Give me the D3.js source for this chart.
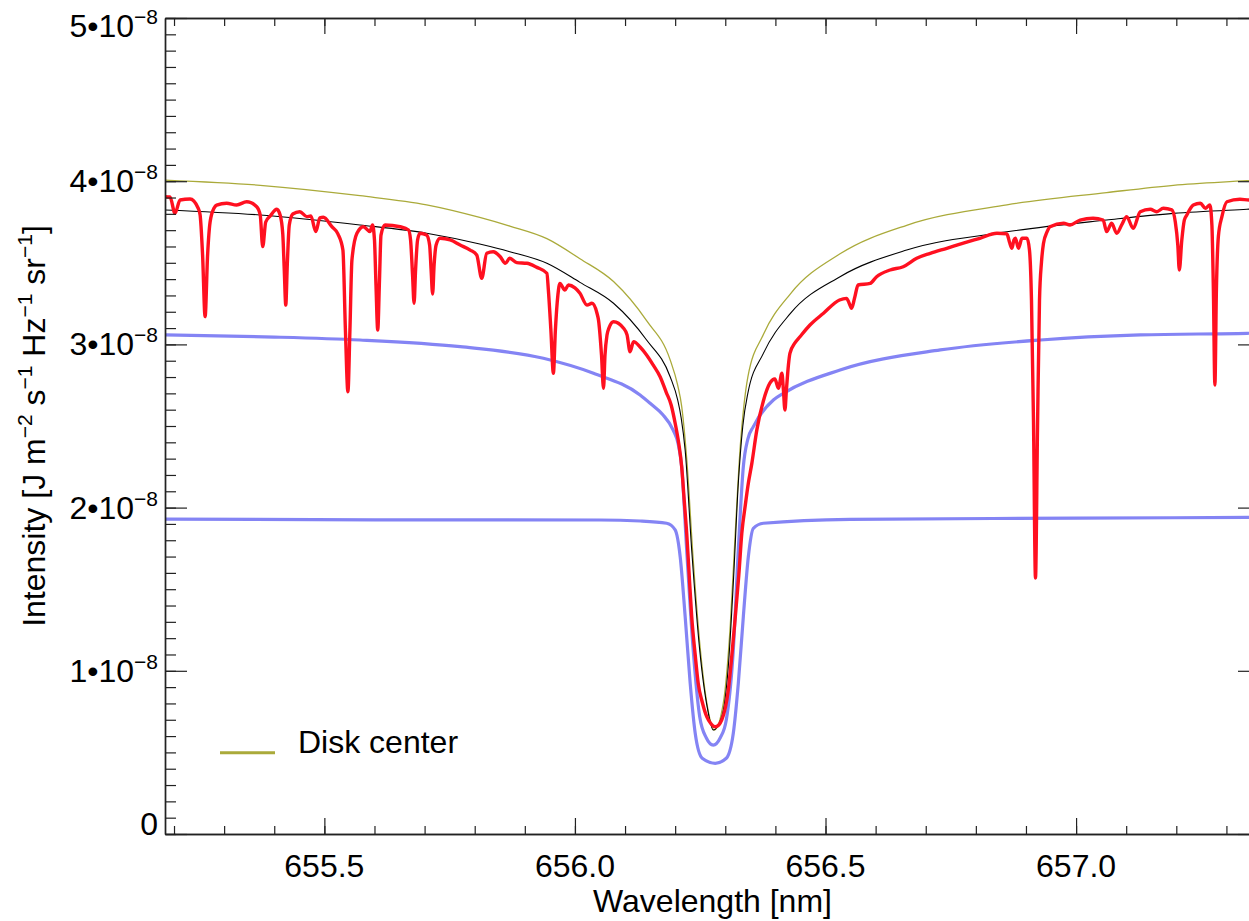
<!DOCTYPE html>
<html><head><meta charset="utf-8">
<script src="https://cdn.jsdelivr.net/npm/d3@7"></script>
<style>html,body{margin:0;padding:0;background:#fff;overflow:hidden}</style>
</head><body><svg id="c" width="1249" height="921"></svg>
<script>
// ---------- DATA (wavelength in nm, intensity in units of 1e-8 J m^-2 s^-1 Hz^-1 sr^-1) ----------
const xMajorTicks = [655.5, 656.0, 656.5, 657.0];
const xTickLabels = ["655.5", "656.0", "656.5", "657.0"];
const yMajorTicks = [0, 1, 2, 3, 4, 5];
const yTickLabels = ["0", "1", "2", "3", "4", "5"];
const legendLabels = ["Disk center"];

const diskWl = [655.182,655.372,655.571,655.704,655.810,655.870,655.944,656.010,656.077,656.143,656.190,656.205,656.213,656.223,656.236,656.249,656.265,656.278,656.296,656.310,656.320,656.330,656.337,656.345,656.376,656.430,656.529,656.662,656.862,657.061,657.194,657.341,657.367];
const diskI  = [4.007,3.975,3.911,3.855,3.778,3.725,3.648,3.525,3.385,3.145,2.905,2.75,2.62,2.30,1.68,1.17,0.77,0.637,0.80,1.28,1.85,2.38,2.62,2.80,3.06,3.31,3.555,3.73,3.855,3.93,3.975,4.003,4.008];

const meanWl = [655.182,655.372,655.571,655.704,655.810,655.870,655.944,656.010,656.077,656.143,656.190,656.205,656.212,656.220,656.233,656.249,656.265,656.276,656.293,656.306,656.316,656.326,656.335,656.345,656.376,656.430,656.529,656.662,656.862,657.061,657.194,657.341,657.367];
const meanI  = [3.824,3.793,3.732,3.681,3.615,3.568,3.497,3.38,3.252,3.027,2.802,2.66,2.55,2.35,1.74,1.127,0.76,0.637,0.719,1.025,1.536,2.149,2.50,2.70,2.945,3.19,3.415,3.578,3.69,3.762,3.803,3.828,3.832];

const broadWl = [655.182,655.400,655.571,655.771,655.937,656.037,656.130,656.150,656.175,656.196,656.206,656.213,656.223,656.236,656.249,656.262,656.276,656.290,656.302,656.316,656.326,656.336,656.345,656.356,656.396,656.416,656.529,656.729,656.929,657.128,657.341,657.367];
const broadI  = [3.058,3.045,3.027,2.986,2.915,2.823,2.69,2.639,2.57,2.475,2.39,2.25,1.74,1.127,0.719,0.59,0.545,0.59,0.699,1.127,1.74,2.25,2.42,2.496,2.659,2.70,2.843,2.966,3.027,3.058,3.068,3.07];

const narrowWl = [655.182,655.600,656.050,656.130,656.183,656.200,656.210,656.220,656.230,656.240,656.254,656.280,656.302,656.316,656.326,656.336,656.346,656.356,656.376,656.549,657.000,657.367];
const narrowI  = [1.930,1.925,1.924,1.918,1.904,1.863,1.699,1.331,0.923,0.617,0.464,0.433,0.464,0.617,0.923,1.331,1.699,1.873,1.904,1.928,1.935,1.94];

const obsWl = [655.182,655.192,655.202,655.212,655.232,655.248,655.252,655.257,655.262,655.267,655.272,655.280,655.285,655.305,655.325,655.345,655.365,655.372,655.377,655.383,655.392,655.405,655.412,655.417,655.420,655.423,655.426,655.430,655.437,655.451,655.465,655.473,655.483,655.491,655.498,655.515,655.527,655.537,655.542,655.547,655.551,655.555,655.565,655.578,655.591,655.596,655.600,655.603,655.6065,655.610,655.613,655.621,655.651,655.668,655.672,655.676,655.679,655.682,655.686,655.691,655.704,655.710,655.713,655.716,655.719,655.723,655.731,655.751,655.771,655.791,655.804,655.814,655.824,655.837,655.851,655.861,655.870,655.884,655.904,655.924,655.944,655.947,655.952,655.957,655.961,655.966,655.970,655.980,655.987,656.000,656.010,656.024,656.034,656.044,656.047,656.053,656.057,656.060,656.064,656.068,656.077,656.097,656.104,656.110,656.117,656.130,656.143,656.156,656.170,656.182,656.192,656.200,656.207,656.213,656.218,656.223,656.228,656.233,656.240,656.246,656.254,656.263,656.272,656.280,656.287,656.293,656.300,656.306,656.313,656.320,656.327,656.333,656.340,656.346,656.353,656.363,656.376,656.389,656.399,656.406,656.413,656.416,656.419,656.422,656.426,656.429,656.439,656.449,656.469,656.496,656.528,656.542,656.547,656.552,656.558,656.565,656.589,656.602,656.629,656.655,656.682,656.709,656.742,656.775,656.808,656.842,656.862,656.867,656.872,656.876,656.879,656.885,656.892,656.902,656.907,656.911,656.915,656.919,656.923,656.927,656.931,656.935,656.942,656.948,656.975,656.988,657.008,657.034,657.054,657.061,657.071,657.081,657.091,657.101,657.114,657.128,657.148,657.161,657.174,657.191,657.198,657.203,657.206,657.211,657.216,657.221,657.234,657.248,657.258,657.267,657.271,657.274,657.277,657.280,657.284,657.291,657.301,657.327,657.345,657.367];
const obsI  = [3.905,3.903,3.803,3.885,3.891,3.836,3.795,3.548,3.170,3.548,3.750,3.836,3.854,3.865,3.854,3.874,3.844,3.793,3.599,3.750,3.787,3.828,3.790,3.677,3.456,3.241,3.487,3.732,3.799,3.813,3.783,3.787,3.691,3.775,3.779,3.721,3.677,3.578,3.088,2.710,3.088,3.517,3.681,3.721,3.691,3.732,3.640,3.364,3.088,3.395,3.670,3.732,3.721,3.701,3.640,3.425,3.252,3.456,3.640,3.681,3.670,3.609,3.456,3.309,3.487,3.609,3.650,3.640,3.609,3.578,3.548,3.405,3.558,3.568,3.537,3.497,3.528,3.501,3.497,3.472,3.436,3.333,3.088,2.823,3.088,3.303,3.374,3.333,3.364,3.346,3.313,3.241,3.252,3.191,3.149,2.935,2.731,2.935,3.058,3.101,3.139,3.099,3.058,2.955,3.017,2.984,2.935,2.874,2.802,2.708,2.629,2.517,2.396,2.251,2.047,1.843,1.587,1.332,1.097,0.923,0.809,0.719,0.674,0.657,0.668,0.699,0.772,0.882,1.091,1.332,1.587,1.843,2.016,2.149,2.271,2.476,2.653,2.762,2.788,2.731,2.823,2.721,2.598,2.721,2.874,2.945,3.009,3.047,3.119,3.191,3.272,3.282,3.254,3.221,3.284,3.364,3.374,3.415,3.456,3.476,3.528,3.558,3.589,3.620,3.650,3.681,3.677,3.628,3.589,3.640,3.650,3.589,3.650,3.650,3.578,3.272,2.537,1.569,2.476,3.272,3.505,3.620,3.689,3.721,3.742,3.732,3.762,3.773,3.762,3.691,3.742,3.681,3.732,3.783,3.711,3.813,3.828,3.813,3.834,3.824,3.750,3.609,3.456,3.640,3.762,3.793,3.854,3.865,3.834,3.854,3.732,3.333,2.751,3.333,3.664,3.783,3.874,3.889,3.885,3.897];

// ---------- LAYOUT ----------
const L = 165, R = 1260, T = 18, B = 834;
const FONT = "'Liberation Sans', Arial, Helvetica, sans-serif";
const svg = d3.select("#c");
const x = d3.scaleLinear().domain([655.182, 657.367]).range([L, R]);
const y = d3.scaleLinear().domain([0, 5]).range([B, T]);

svg.append("defs").append("clipPath").attr("id", "clip")
  .append("rect").attr("x", L).attr("y", T).attr("width", R - L).attr("height", B - T);

const plot = svg.append("g").attr("clip-path", "url(#clip)");
const line = d3.line().x(d => x(d[0])).y(d => y(d[1])).curve(d3.curveMonotoneX);
const zip = (a, b) => a.map((v, i) => [v, b[i]]);

const series = [
  {wl: broadWl, I: broadI, color: "#8484f4", width: 3.2},
  {wl: narrowWl, I: narrowI, color: "#8484f4", width: 3.2},
  {wl: diskWl, I: diskI, color: "#aaaa3a", width: 1.3},
  {wl: meanWl, I: meanI, color: "#000000", width: 1.1},
  {wl: obsWl, I: obsI, color: "#ff1020", width: 3.4}
];
series.forEach(s => {
  plot.append("path").attr("d", line(zip(s.wl, s.I)))
    .attr("fill", "none").attr("stroke", s.color).attr("stroke-width", s.width)
    .attr("stroke-linejoin", "round").attr("stroke-linecap", "round");
});

// ---------- AXES ----------
const xMinor = d3.range(6552, 6574).map(v => v / 10);
const yMinor = d3.range(0, 51).map(v => v / 10);
const axColor = "#222";
function styleAxis(g) {
  g.selectAll("path.domain").attr("stroke", axColor).attr("stroke-width", 1.4);
  g.selectAll(".tick line").attr("stroke", axColor).attr("stroke-width", 1.2);
  g.selectAll(".tick text").remove();
}
svg.append("g").attr("transform", `translate(0,${B})`)
  .call(d3.axisBottom(x).tickValues(xMinor).tickSize(-8).tickSizeOuter(0).tickFormat("")).call(styleAxis);
svg.append("g").attr("transform", `translate(0,${B})`)
  .call(d3.axisBottom(x).tickValues(xMajorTicks).tickSize(-16).tickSizeOuter(0).tickFormat("")).call(styleAxis);
svg.append("g").attr("transform", `translate(0,${T})`)
  .call(d3.axisTop(x).tickValues(xMinor).tickSize(-8).tickSizeOuter(0).tickFormat("")).call(styleAxis);
svg.append("g").attr("transform", `translate(0,${T})`)
  .call(d3.axisTop(x).tickValues(xMajorTicks).tickSize(-16).tickSizeOuter(0).tickFormat("")).call(styleAxis);
svg.append("g").attr("transform", `translate(${L},0)`)
  .call(d3.axisLeft(y).tickValues(yMinor).tickSize(-11).tickSizeOuter(0).tickFormat("")).call(styleAxis);
svg.append("g").attr("transform", `translate(${L},0)`)
  .call(d3.axisLeft(y).tickValues(yMajorTicks).tickSize(-22).tickSizeOuter(0).tickFormat("")).call(styleAxis);
svg.append("g").attr("transform", `translate(${R},0)`)
  .call(d3.axisRight(y).tickValues(yMinor).tickSize(-11).tickSizeOuter(0).tickFormat("")).call(styleAxis);
svg.append("g").attr("transform", `translate(${R},0)`)
  .call(d3.axisRight(y).tickValues(yMajorTicks).tickSize(-22).tickSizeOuter(0).tickFormat("")).call(styleAxis);

// x tick labels
xMajorTicks.forEach((v, i) => {
  svg.append("text").attr("x", x(v)).attr("y", 877).attr("text-anchor", "middle")
    .attr("font-family", FONT).attr("font-size", 32).attr("fill", "#000").text(xTickLabels[i]);
});
// y tick labels
yMajorTicks.forEach((v, i) => {
  let by = y(v) + 11;
  if (v === 0) by = 835;
  if (v === 5) by = 37;
  const t = svg.append("text").attr("x", 158).attr("y", by).attr("text-anchor", "end")
    .attr("font-family", FONT).attr("font-size", 32).attr("fill", "#000");
  if (v === 0) { t.text(yTickLabels[i]); return; }
  t.append("tspan").text(yTickLabels[i] + "\u202210");
  t.append("tspan").attr("dy", -13).attr("font-size", 21).text("\u22128");
});

// axis titles
svg.append("text").attr("x", (L + R) / 2).attr("y", 912).attr("text-anchor", "middle")
  .attr("font-family", FONT).attr("font-size", 32).attr("fill", "#000").text("Wavelength [nm]");
const yt = svg.append("text").attr("transform", `translate(45,${(T + B) / 2}) rotate(-90)`)
  .attr("text-anchor", "middle").attr("font-family", FONT).attr("font-size", 32).attr("fill", "#000");
const parts = [["Intensity [J m", 0], ["\u22122", 1], [" s", 0], ["\u22121", 1], [" Hz", 0], ["\u22121", 1], [" sr", 0], ["\u22121", 1], ["]", 0]];
parts.forEach((p, i) => {
  const ts = yt.append("tspan").text(p[0]);
  if (p[1]) ts.attr("dy", -13).attr("font-size", 21);
  else if (i > 0) ts.attr("dy", 13);
});

// legend
svg.append("line").attr("x1", 220).attr("x2", 275).attr("y1", 752.7).attr("y2", 752.7)
  .attr("stroke", "#aaaa3a").attr("stroke-width", 3);
svg.append("text").attr("x", 298).attr("y", 753).attr("font-family", FONT).attr("font-size", 32)
  .attr("fill", "#000").text(legendLabels[0]);
</script></body></html>
